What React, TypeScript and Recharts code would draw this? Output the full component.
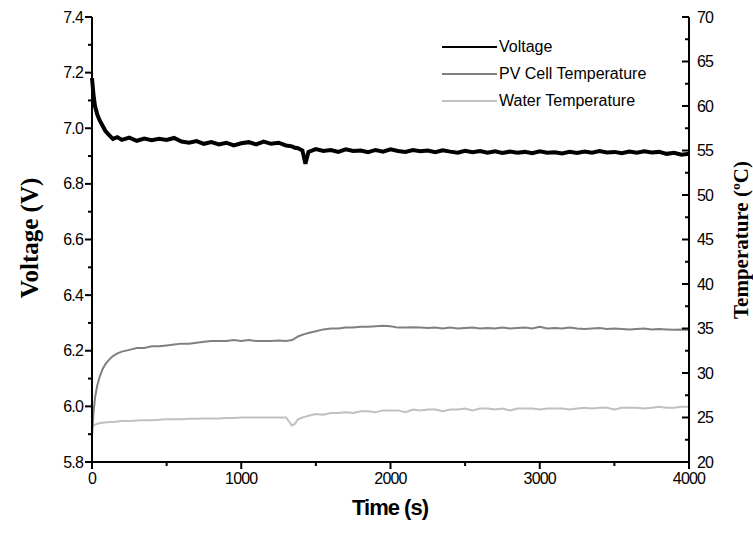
import React from 'react';
import { LineChart, Line, XAxis, YAxis } from 'recharts';

// time (s)
const time = [
  0, 10, 20, 35, 50, 70, 90, 115, 140, 170, 200,
  250, 300, 350, 400, 450, 500, 550, 600, 650, 700, 750, 800, 850, 900, 950, 1000,
  1050, 1100, 1150, 1200, 1250, 1300,
  1340, 1360, 1380, 1410, 1430, 1450,
  1500, 1550, 1600, 1650, 1700, 1750, 1800, 1850, 1900, 1950, 2000,
  2050, 2100, 2150, 2200, 2250, 2300, 2350, 2400, 2450, 2500,
  2550, 2600, 2650, 2700, 2750, 2800, 2850, 2900, 2950, 3000,
  3050, 3100, 3150, 3200, 3250, 3300, 3350, 3400, 3450, 3500,
  3550, 3600, 3650, 3700, 3750, 3800, 3850, 3900, 3950, 4000,
];

// voltage (V)
const voltage = [
  7.18, 7.12, 7.08, 7.05, 7.03, 7.01, 6.99, 6.975, 6.962, 6.968, 6.958,
  6.966, 6.955, 6.963, 6.957, 6.962, 6.958, 6.965, 6.952, 6.948, 6.954, 6.944, 6.95, 6.942, 6.948, 6.938, 6.946,
  6.95, 6.942, 6.952, 6.944, 6.948, 6.938,
  6.935, 6.93, 6.928, 6.92, 6.872, 6.915,
  6.925, 6.918, 6.922, 6.915, 6.924, 6.918, 6.92, 6.914, 6.922, 6.916, 6.924,
  6.918, 6.915, 6.922, 6.917, 6.92, 6.914, 6.921, 6.916, 6.912, 6.919,
  6.914, 6.918, 6.912, 6.917, 6.911, 6.916, 6.912, 6.915, 6.91, 6.917,
  6.912, 6.914, 6.909, 6.915, 6.911, 6.916, 6.912, 6.918, 6.913, 6.915,
  6.91, 6.916, 6.912, 6.917, 6.913, 6.915, 6.908, 6.912, 6.905, 6.908,
];

// PV cell temperature (ºC)
const pvTemp = [
  23.0, 25.5, 27.2, 28.6, 29.5, 30.4, 31.0, 31.5, 31.9, 32.2, 32.4,
  32.6, 32.8, 32.8, 33.0, 33.0, 33.1, 33.2, 33.3, 33.3, 33.4, 33.5, 33.6, 33.6, 33.6, 33.7, 33.6,
  33.7, 33.6, 33.6, 33.6, 33.65, 33.6,
  33.7, 33.9, 34.1, 34.3, 34.4, 34.5,
  34.7, 34.9, 35.0, 35.0, 35.1, 35.1, 35.2, 35.2, 35.25, 35.3, 35.25,
  35.1, 35.1, 35.15, 35.1, 35.05, 35.1, 35.0, 35.1, 35.0, 35.05,
  35.1, 35.0, 35.05, 35.0, 35.1, 35.0, 35.05, 35.1, 35.0, 35.2,
  35.0, 35.05, 35.0, 35.1, 35.0, 34.95, 35.0, 35.05, 34.95, 35.0,
  34.95, 34.9, 34.95, 35.0, 34.9, 34.95, 34.9, 34.85, 34.9, 34.85,
];

// water temperature (ºC)
const waterTemp = [
  23.9, 24.1, 24.2, 24.3, 24.35, 24.4, 24.45, 24.5, 24.5, 24.55, 24.6,
  24.6, 24.65, 24.7, 24.7, 24.75, 24.8, 24.8, 24.8, 24.85, 24.85, 24.9, 24.9, 24.9, 24.95, 24.95, 25.0,
  25.0, 25.0, 25.0, 25.0, 25.0, 25.0,
  24.1, 24.3, 24.8, 25.0, 25.1, 25.2,
  25.4, 25.3, 25.5, 25.5, 25.6, 25.5, 25.7, 25.7, 25.6, 25.8, 25.8,
  25.8, 25.6, 25.9, 25.8, 25.9, 25.9, 25.7, 25.9, 25.9, 26.0,
  25.8, 26.0, 26.0, 25.9, 26.0, 25.8, 26.0, 26.0, 26.0, 25.9,
  26.0, 26.0, 26.0, 25.9, 26.0, 26.1, 26.0, 26.1, 26.1, 25.9,
  26.1, 26.1, 26.1, 26.0, 26.1, 26.2, 26.1, 26.1, 26.2, 26.2,
];

const voltTicks = [5.8, 5.9, 6.0, 6.1, 6.2, 6.3, 6.4, 6.5, 6.6, 6.7, 6.8, 6.9, 7.0, 7.1, 7.2, 7.3, 7.4];
const tempTicks = [20, 22.5, 25, 27.5, 30, 32.5, 35, 37.5, 40, 42.5, 45, 47.5, 50, 52.5, 55, 57.5, 60, 62.5, 65, 67.5, 70];
const timeTicks = [0, 500, 1000, 1500, 2000, 2500, 3000, 3500, 4000];

const seriesInfo = [
  { key: 'voltage', name: 'Voltage', color: '#000000' },
  { key: 'pv', name: 'PV Cell Temperature', color: '#808080' },
  { key: 'water', name: 'Water Temperature', color: '#c0c0c0' },
];

const data = time.map((t, i) => ({ t, voltage: voltage[i], pv: pvTemp[i], water: waterTemp[i] }));

const tickFont = { fontFamily: 'Liberation Sans, Arial, sans-serif', fontSize: 16, letterSpacing: -0.8 };

function LeftTick(props: any) {
  const { x, y, payload } = props;
  const major = Math.round(payload.value * 10) % 2 === 0;
  return (
    <g>
      <line x1={x - (major ? 7 : 4)} x2={x} y1={y} y2={y} stroke="#000" strokeWidth={2} />
      {major && (
        <text x={x - 9} y={y} textAnchor="end" dominantBaseline="central" fill="#000" style={tickFont}>
          {payload.value.toFixed(1)}
        </text>
      )}
    </g>
  );
}

function RightTick(props: any) {
  const { x, y, payload } = props;
  const major = payload.value % 5 === 0;
  return (
    <g>
      <line x1={x - (major ? 7 : 4)} x2={x} y1={y} y2={y} stroke="#000" strokeWidth={2} />
      {major && (
        <text x={x + 8} y={y} textAnchor="start" dominantBaseline="central" fill="#000" style={tickFont}>
          {payload.value}
        </text>
      )}
    </g>
  );
}

function BottomTick(props: any) {
  const { x, y, payload } = props;
  const major = payload.value % 1000 === 0;
  return (
    <g>
      <line x1={x} x2={x} y1={y} y2={y + (major ? 7 : 4)} stroke="#000" strokeWidth={2} />
      {major && (
        <text x={x} y={y + 16} textAnchor="middle" dominantBaseline="central" fill="#000" style={tickFont}>
          {payload.value}
        </text>
      )}
    </g>
  );
}

function LegendBox() {
  return (
    <div
      style={{
        position: 'absolute', left: 442, top: 33,
        fontFamily: 'Liberation Sans, Arial, sans-serif', fontSize: 16, color: '#000',
      }}
    >
      {seriesInfo.map((s) => (
        <div key={s.key} style={{ display: 'flex', alignItems: 'center', height: 27 }}>
          <span style={{ display: 'inline-block', width: 55, height: 2, background: s.color, marginRight: 2 }} />
          <span>{s.name}</span>
        </div>
      ))}
    </div>
  );
}

export default function App() {
  return (
    <div style={{ position: 'absolute', left: 0, top: 0, width: 753, height: 548, background: '#fff' }}>
      <LineChart width={753} height={548} data={data} margin={{ top: 17, right: 24, bottom: 56, left: 32 }}>
        <XAxis
          dataKey="t"
          type="number"
          domain={[0, 4000]}
          ticks={timeTicks}
          interval={0}
          height={30}
          tickSize={0}
          tickMargin={0}
          tickLine={false}
          axisLine={{ stroke: '#000', strokeWidth: 2 }}
          tick={<BottomTick />}
        />
        <YAxis
          yAxisId="v"
          orientation="left"
          domain={[5.8, 7.4]}
          ticks={voltTicks}
          interval={0}
          width={60}
          tickSize={0}
          tickMargin={0}
          tickLine={false}
          axisLine={{ stroke: '#000', strokeWidth: 2 }}
          tick={<LeftTick />}
          allowDataOverflow
        />
        <YAxis
          yAxisId="t"
          orientation="right"
          domain={[20, 70]}
          ticks={tempTicks}
          interval={0}
          width={40}
          tickSize={0}
          tickMargin={0}
          tickLine={false}
          axisLine={{ stroke: '#000', strokeWidth: 2 }}
          tick={<RightTick />}
          allowDataOverflow
        />
        <Line yAxisId="t" dataKey="water" name="Water Temperature" stroke="#c0c0c0" strokeWidth={2} dot={false} isAnimationActive={false} />
        <Line yAxisId="t" dataKey="pv" name="PV Cell Temperature" stroke="#808080" strokeWidth={2} dot={false} isAnimationActive={false} />
        <Line yAxisId="v" dataKey="voltage" name="Voltage" stroke="#000000" strokeWidth={4} dot={false} isAnimationActive={false} />
      </LineChart>
      <LegendBox />
      <div
        style={{
          position: 'absolute', left: 30 - 150, top: 238 - 16, width: 300, height: 32, lineHeight: '32px',
          textAlign: 'center', transform: 'rotate(-90deg)',
          fontFamily: 'Liberation Serif, serif', fontWeight: 'bold', fontSize: 25,
        }}
      >
        Voltage (V)
      </div>
      <div
        style={{
          position: 'absolute', left: 741 - 150, top: 240 - 13, width: 300, height: 26, lineHeight: '26px',
          textAlign: 'center', transform: 'rotate(-90deg)',
          fontFamily: 'Liberation Serif, serif', fontWeight: 'bold', fontSize: 21,
        }}
      >
        Temperature (ºC)
      </div>
      <div
        style={{
          position: 'absolute', left: 390 - 100, top: 508 - 15, width: 200, height: 30, lineHeight: '30px',
          textAlign: 'center', fontFamily: 'Liberation Sans, Arial, sans-serif', fontWeight: 'bold', fontSize: 22,
          letterSpacing: -1,
        }}
      >
        Time (s)
      </div>
    </div>
  );
}
